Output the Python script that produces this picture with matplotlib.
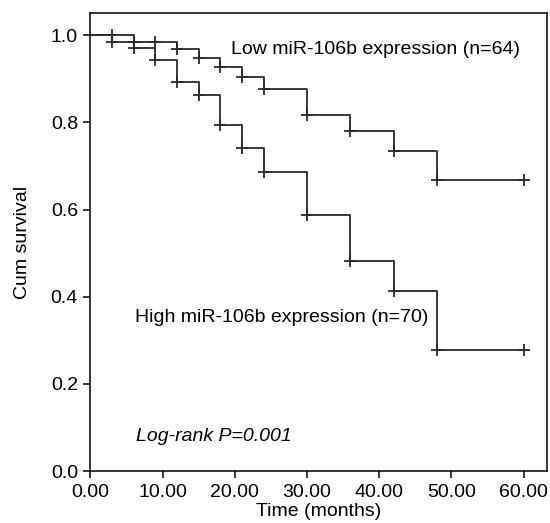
import numpy as np
import matplotlib
matplotlib.use('Agg')
import matplotlib.pyplot as plt
from matplotlib import rcParams

rcParams.update({
    'font.family': 'Liberation Sans', 'font.size': 14,
    'axes.linewidth': 1.1,
    'xtick.major.width': 1.1, 'ytick.major.width': 1.1,
    'xtick.major.size': 5, 'ytick.major.size': 5,
})

# Kaplan-Meier step data (months, cum survival)
LOW_T = [0, 6, 12, 15, 18, 21, 24, 30, 36, 42, 48, 60]
LOW_S = [1.0, 0.984, 0.968, 0.948, 0.926, 0.904, 0.877, 0.817, 0.781, 0.734, 0.667, 0.667]
HIGH_T = [0, 3, 6, 9, 12, 15, 18, 21, 24, 30, 36, 42, 48, 60]
HIGH_S = [1.0, 0.985, 0.970, 0.942, 0.892, 0.862, 0.795, 0.740, 0.685, 0.588, 0.483, 0.414, 0.278, 0.278]
# censor marks
LOW_CENS = [3, 6, 9, 12, 15, 18, 21, 24, 30, 36, 42, 48, 60]
HIGH_CENS = [3, 6, 9, 12, 15, 18, 21, 24, 30, 36, 42, 48, 60]

XTICKS = [0, 10, 20, 30, 40, 50, 60]
YTICKS = [0.0, 0.2, 0.4, 0.6, 0.8, 1.0]


def level(ts, ss, t):
    i = np.searchsorted(ts, t, side='right') - 1
    return ss[i]


fig = plt.figure(figsize=(5.5, 5.23), dpi=100)
ax = fig.add_axes([0.1645, 0.0994, 0.8295, 0.875])

for ts, ss, cens in [(LOW_T, LOW_S, LOW_CENS), (HIGH_T, HIGH_S, HIGH_CENS)]:
    ax.step(ts, ss, where='post', color='#2a2a2a', lw=1.3)
    cy = [level(ts, ss, c) for c in cens]
    ax.plot(cens, cy, '+', color='#2a2a2a', ms=8, mew=1.3)

ax.text(19.5, 0.968, 'Low miR-106b expression (n=64)', va='center', ha='left', fontsize=14)
ax.text(6.2, 0.352, 'High miR-106b expression (n=70)', va='center', ha='left', fontsize=14)
ax.text(6.3, 0.079, 'Log-rank P=0.001', va='center', ha='left', fontsize=14, style='italic')

ax.set_xlim(0, 63.2)
ax.set_ylim(0, 1.05)
ax.set_xticks(XTICKS)
ax.set_xticklabels([f'{v:.2f}' for v in XTICKS])
ax.set_yticks(YTICKS)
ax.set_yticklabels([f'{v:.1f}' for v in YTICKS])
ax.tick_params(axis='x', pad=4, labelsize=14)
ax.tick_params(axis='y', pad=4, labelsize=14)
ax.set_xlabel('Time (months)', fontsize=14, labelpad=2)
ax.set_ylabel('Cum survival', fontsize=14, labelpad=14)

fig.savefig('out.png', dpi=100)
